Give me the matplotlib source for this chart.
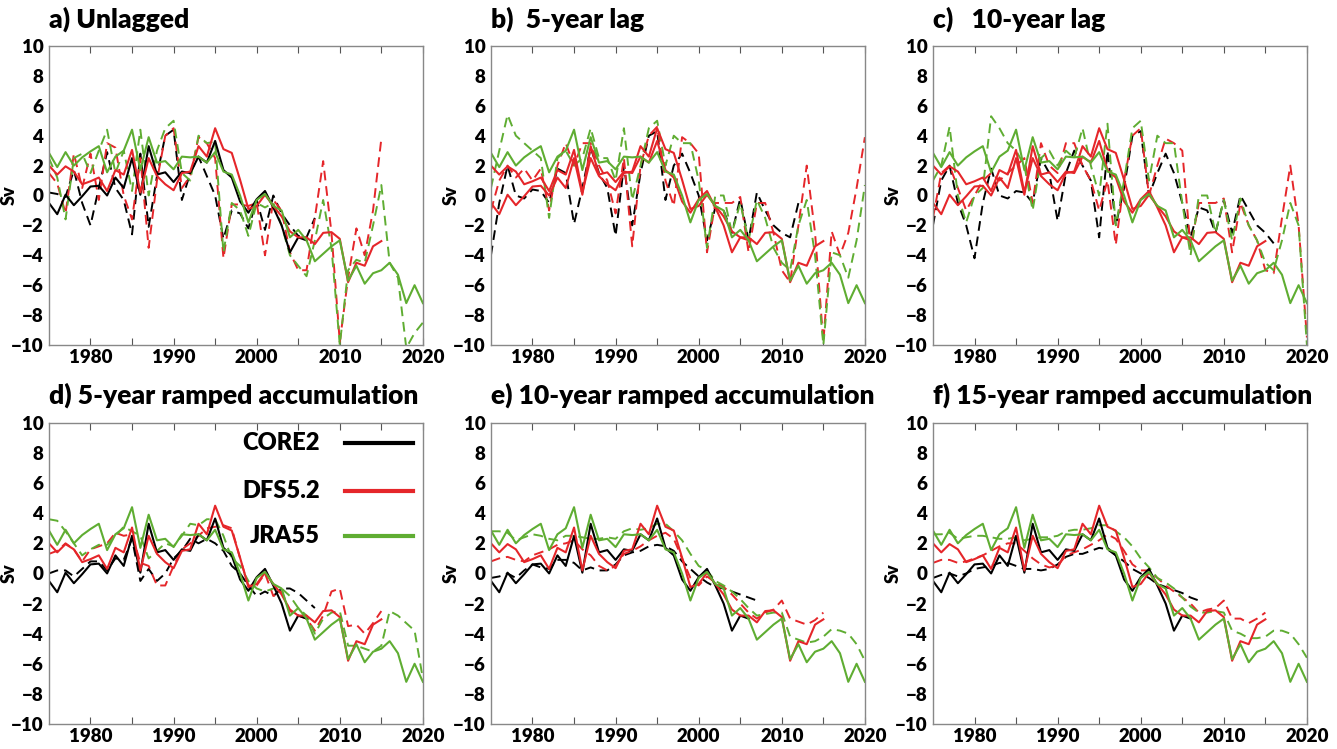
import numpy as np
import matplotlib
matplotlib.use('Agg')
import matplotlib.pyplot as plt

plt.rcParams['font.family'] = ['Lato', 'DejaVu Sans']
plt.rcParams['font.weight'] = 'heavy'

YEARS = np.arange(1975, 2021)

# model AMOC anomalies (Sv), solid lines, same in every panel
core2 = [-0.5, -1.25, 0.05, -0.65, -0.05, 0.6, 0.65, 0.0, 1.2, 0.5,
         2.5, 0.05, 3.3, 1.4, 1.55, 0.9, 1.6, 1.5, 2.6, 2.2,
         3.65, 1.7, 1.2, -0.4, -1.15, -0.25, 0.3, -0.8, -2.0, -3.8,
         -2.8, -3.0]
dfs52 = [2.0, 1.4, 1.95, 1.6, 0.75, 0.95, 1.2, 0.3, 1.7, 1.4,
         3.05, 0.2, 2.5, 1.3, 0.75, 0.35, 1.5, 1.6, 3.3, 2.6,
         4.5, 3.1, 2.85, 1.05, -0.9, -0.7, 0.05, -0.7, -1.4, -2.4,
         -2.8, -2.8, -3.25, -2.5, -2.45, -2.9, -5.8, -4.5, -4.7, -3.4,
         -3.05]
jra55 = [2.85, 1.9, 2.9, 2.0, 2.55, 2.95, 3.3, 1.55, 2.6, 3.0,
         4.4, 1.7, 3.9, 2.2, 2.3, 1.75, 2.6, 2.55, 2.6, 2.2,
         2.9, 1.6, 1.4, 0.0, -1.8, -0.3, 0.1, -0.7, -1.0, -2.8,
         -2.3, -3.0, -4.4, -3.9, -3.4, -3.0, -5.7, -4.7, -5.9, -5.2,
         -5.0, -4.5, -5.3, -7.2, -6.0, -7.2]

# reconstructions (dashed), one set per panel
core2_a = [0.2, 0.1, -0.1, 1.7, -0.5, -2.0, 0.5, 2.9, 0.5, -0.3,
           -2.6, 2.8, -2.1, 1.3, 4.0, 4.4, -0.3, 1.5, 2.6, 1.3,
           0.0, -2.9, -1.0, -1.2, -2.2, -0.3, -2.3, 0.0, -1.2, -2.0,
           -2.7, -2.8, -1.5]
dfs52_a = [1.5, 0.8, -1.2, 2.8, 0.5, 2.8, -0.3, 3.5, 3.2, 0.0,
           -1.6, 2.5, -3.5, 1.0, 4.0, 4.5, 0.5, 1.3, 3.9, 3.5,
           2.5, -4.2, -0.6, -0.6, -0.7, -0.5, -4.0, -0.3, -1.0, -3.8,
           -5.0, -5.0, -1.5, 2.3, -2.5, -9.8, -5.5, -2.2, -4.0, -1.0,
           3.8]
jra55_a = [2.5, 1.2, -1.6, 2.5, 2.8, 1.5, 3.0, 4.4, 1.5, 3.0,
           0.3, 4.4, 0.0, 3.0, 4.5, 5.0, 1.5, 1.0, 4.0, 3.5,
           3.6, -3.8, -0.5, -1.0, -2.7, -0.5, -0.8, -0.5, -2.0, -4.0,
           -4.7, -5.4, -3.0, -0.3, -3.5, -10.0, -5.0, -4.3, -4.5, -2.0,
           0.7, -4.5, -5.5, -10.2, -9.2, -8.5]

core2_b = [-4.0, -0.5, 2.0, 0.0, -0.2, 0.4, 0.3, -0.5, 1.8, 1.5,
           -1.9, 0.5, 3.2, 1.5, 0.5, -2.7, 2.0, -2.0, 1.5, 4.0,
           4.3, -0.3, 2.0, 2.8, 1.5, 0.0, -3.0, -0.8, -1.0, -2.5,
           -0.2, -3.0, 0.2, -1.0, -2.0, -2.5, -2.8, -0.5]
dfs52_b = [-1.0, 1.0, 2.0, 1.2, 1.8, 1.0, 1.8, -1.0, 2.0, 3.5,
           2.0, 3.5, 3.5, 2.0, 1.0, -1.2, 2.5, -3.4, 2.0, 4.0,
           4.6, 1.0, -0.7, 3.9, 3.5, 2.8, -3.8, -0.5, -0.5, -0.5,
           -0.1, -3.8, -0.5, -0.5, -2.5, -5.0, -5.8, -2.0, 2.0, -2.5,
           -9.8, -2.4, -4.0, -2.5, 0.5, 3.9]
jra55_b = [0.5, 3.0, 5.4, 4.0, 3.5, 3.0, 2.5, -1.5, 2.5, 3.0,
           2.0, 2.5, 4.5, 2.5, 2.5, 1.0, 4.5, -0.3, 2.0, 4.5,
           5.0, 2.0, 4.0, 3.5, 3.5, 1.0, -3.5, 0.0, 0.0, -2.5,
           -0.5, -3.0, -0.3, -1.5, -3.5, -4.5, -5.0, -2.0, -0.3, -4.0,
           -10.0, -3.8, -4.0, -5.5, -3.0, 0.7]

core2_c = [-2.0, 1.0, 2.0, -0.5, -2.0, -4.2, -0.5, 1.8, 0.0, -0.2,
           0.3, 0.2, -0.5, 2.5, 1.5, -1.7, 1.5, 3.0, 2.0, 1.0,
           -2.8, 3.0, -2.0, 0.5, 4.0, 4.3, 0.0, 1.5, 2.8, 1.5,
           -0.5, -2.8, -0.8, -1.0, -2.5, -0.3, -2.5, 0.0, -1.0, -2.0,
           -2.5, -3.2]
dfs52_c = [-1.5, 1.5, 2.0, 0.5, -1.0, 0.0, 1.0, 1.5, 1.0, 1.5,
           2.0, 2.5, -0.5, 3.5, 2.0, 1.5, 3.5, 3.5, 2.0, 1.0,
           -1.0, 1.0, -3.3, 1.0, 4.0, 4.5, 0.0, 2.0, 3.8, 3.5,
           3.0, -3.5, -0.5, -0.5, -0.5, -0.2, -3.8, -0.5, -2.0, -3.0,
           -5.0, -5.2, -1.5, 2.0, -2.0, -9.5]
jra55_c = [1.0, 2.0, 4.6, 0.0, -1.8, 0.0, 0.5, 5.3, 4.5, 3.5,
           3.0, 2.0, -1.0, 2.5, 3.0, 2.0, 3.0, 2.5, 4.5, 2.0,
           0.0, 4.8, -2.0, 1.0, 4.5, 5.0, 1.0, 4.0, 3.5, 3.5,
           -0.5, -4.0, 0.0, 0.0, -2.5, -0.3, -3.0, -0.2, -2.0, -3.0,
           -4.5, -5.0, -3.0, -0.5, -2.0, -10.0]

core2_d = [0.0, 0.2, 0.2, -0.2, 0.3, 0.8, 0.8, 0.2, 1.0, 0.9,
           2.3, -0.5, 0.3, -0.5, 0.0, 1.0, 1.5, 2.3, 2.0, 2.3,
           2.0, 1.5, 0.5, 0.0, -0.8, -1.5, -1.2, -1.5, -1.0, -1.0,
           -1.3, -1.8, -2.3]
dfs52_d = [1.3, 1.5, 2.0, 1.6, 0.8, 1.6, 1.8, 2.0, 2.7, 2.5,
           2.6, 0.7, 0.5, -0.8, -0.8, 0.5, 1.6, 2.0, 2.5, 3.0,
           3.1, 3.2, 3.0, 1.0, -0.8, -0.8, 0.0, -1.5, -1.2, -2.5,
           -2.8, -3.0, -3.8, -2.8, -1.2, -1.0, -3.5, -3.4, -4.0, -3.3,
           -2.5]
jra55_d = [3.6, 3.5, 2.8, 2.0, 1.2, 1.6, 1.9, 1.9, 2.5, 3.1,
           2.8, 2.5, 1.0, 1.5, 2.0, 1.8, 2.5, 3.3, 3.2, 3.6,
           3.6, 2.5, 1.0, 0.5, -0.5, -1.0, -1.2, -1.0, -1.0, -1.5,
           -2.3, -2.8, -4.0, -3.0, -2.6, -2.5, -4.8, -4.8, -5.0, -5.2,
           -4.8, -2.5, -2.8, -3.3, -3.8, -7.0]

core2_e = [-0.3, -0.2, 0.0, -0.3, 0.2, 0.6, 0.4, 0.3, 0.9, 0.9,
           0.7, 0.2, 0.4, 0.2, 0.2, 0.6, 1.2, 1.4, 1.5, 1.8,
           1.9, 1.8, 1.5, 0.8, 0.3, -0.2, -0.6, -0.9, -1.0, -1.2,
           -1.4, -1.6, -1.8]
dfs52_e = [0.8, 1.0, 1.1, 0.9, 0.8, 1.2, 1.4, 1.6, 1.9, 2.0,
           2.2, 1.6, 1.2, 0.5, 0.2, 0.5, 1.3, 1.5, 1.8, 2.2,
           2.5, 2.7, 2.3, 1.0, -0.3, -0.8, -0.2, -0.6, -0.9, -1.4,
           -2.0, -2.6, -3.0, -2.6, -2.4, -1.8, -3.0, -3.2, -3.4, -3.1,
           -2.6]
jra55_e = [2.8, 2.8, 2.7, 2.2, 2.4, 2.6, 2.5, 2.3, 2.2, 2.5,
           2.5, 2.4, 2.3, 2.3, 2.4, 2.3, 2.8, 3.0, 2.9, 3.0,
           3.3, 3.3, 2.8, 2.2, 1.3, 0.5, 0.2, -0.5, -0.8, -1.2,
           -1.7, -2.3, -2.8, -2.7, -2.6, -2.6, -4.2, -4.4, -4.6, -4.5,
           -4.2, -3.7, -3.8, -4.0, -4.7, -5.8]

core2_f = [-0.3, -0.1, 0.0, -0.2, 0.0, 0.3, 0.4, 0.5, 0.7, 0.7,
           0.5, 0.3, 0.3, 0.2, 0.3, 0.6, 1.1, 1.3, 1.3, 1.5,
           1.7, 1.6, 1.2, 0.8, 0.3, 0.0, -0.3, -0.7, -0.9, -1.1,
           -1.3, -1.6, -1.8]
dfs52_f = [0.7, 0.9, 0.9, 0.7, 0.8, 1.0, 1.2, 1.5, 1.8, 2.0,
           2.0, 1.5, 1.0, 0.6, 0.4, 0.5, 1.2, 1.4, 1.6, 1.9,
           2.2, 2.6, 2.3, 1.5, 0.6, 0.2, 0.2, -0.3, -0.8, -1.2,
           -1.6, -2.0, -2.6, -2.4, -2.3, -1.8, -3.0, -3.0, -3.3, -3.0,
           -2.6]
jra55_f = [2.6, 2.6, 2.7, 2.3, 2.4, 2.5, 2.5, 2.4, 2.3, 2.3,
           2.4, 2.2, 2.3, 2.4, 2.4, 2.5, 2.8, 2.9, 2.9, 3.0,
           3.2, 3.2, 2.8, 2.4, 1.8, 1.0, 0.4, -0.3, -0.6, -1.0,
           -1.6, -2.2, -2.6, -2.6, -2.5, -2.6, -3.8, -4.0, -4.3, -4.3,
           -4.2, -3.8, -3.8, -4.0, -4.7, -5.6]

titles = ['a) Unlagged', 'b)  5-year lag', 'c)   10-year lag',
          'd) 5-year ramped accumulation', 'e) 10-year ramped accumulation',
          'f) 15-year ramped accumulation']
recon = [(core2_a, dfs52_a, jra55_a), (core2_b, dfs52_b, jra55_b),
         (core2_c, dfs52_c, jra55_c), (core2_d, dfs52_d, jra55_d),
         (core2_e, dfs52_e, jra55_e), (core2_f, dfs52_f, jra55_f)]
names = ['CORE2', 'DFS5.2', 'JRA55']

RED = '#e5262a'
GREEN = '#5fad32'
# in panels b and c the CORE2 model curve is drawn in red in the original
core_colors = ['black', RED, RED, 'black', 'black', 'black']

fig = plt.figure(figsize=(13.37, 7.49), dpi=100)
lefts = [0.0366, 0.3672, 0.6978]
rows = [(0.5394, 0.3992), (0.0334, 0.402)]

for i in range(6):
    r, c = divmod(i, 3)
    ax = fig.add_axes([lefts[c], rows[r][0], 0.2797, rows[r][1]])
    cols = [core_colors[i], RED, GREEN]

    # dashed reconstructions
    for series, col in zip(recon[i], ['black', RED, GREEN]):
        ax.plot(YEARS[:len(series)], series, color=col, lw=1.4,
                dashes=(5, 3))
    # solid model curves
    for series, col in zip([core2, dfs52, jra55], cols):
        ax.plot(YEARS[:len(series)], series, color=col, lw=1.5)

    ax.set_xlim(1975, 2020)
    ax.set_ylim(-10, 10)
    ax.set_yticks(np.arange(-10, 11, 2))
    ax.set_xticks(np.arange(1980, 2021, 5))
    ax.set_xticklabels([str(y) if y % 10 == 0 else '' for y in range(1980, 2021, 5)])
    ax.tick_params(axis='x', direction='in', top=True, length=5,
                   color='#555555', labelsize=13.5, pad=3)
    ax.tick_params(axis='y', length=0, labelsize=13.5, pad=4)
    for sp in ax.spines.values():
        sp.set_color('#888888')
        sp.set_linewidth(1.0)
    ax.set_ylabel('Sv', fontsize=13, fontweight='heavy')
    ax.yaxis.set_label_coords(-0.083, 0.5)
    ax.text(0.0, 1.063, titles[i], transform=ax.transAxes, ha='left',
            va='baseline', fontsize=19, fontweight='heavy')

    if i == 3:
        ys = [0.934, 0.775, 0.624]
        for name, col, y in zip(names, ['black', RED, GREEN], ys):
            ax.plot([0.791, 0.9725], [y, y], color=col, lw=3,
                    transform=ax.transAxes)
            ax.text(0.7245, y, name, transform=ax.transAxes, ha='right',
                    va='center', fontsize=17, fontweight='heavy')

fig.savefig('out.png', dpi=100)
